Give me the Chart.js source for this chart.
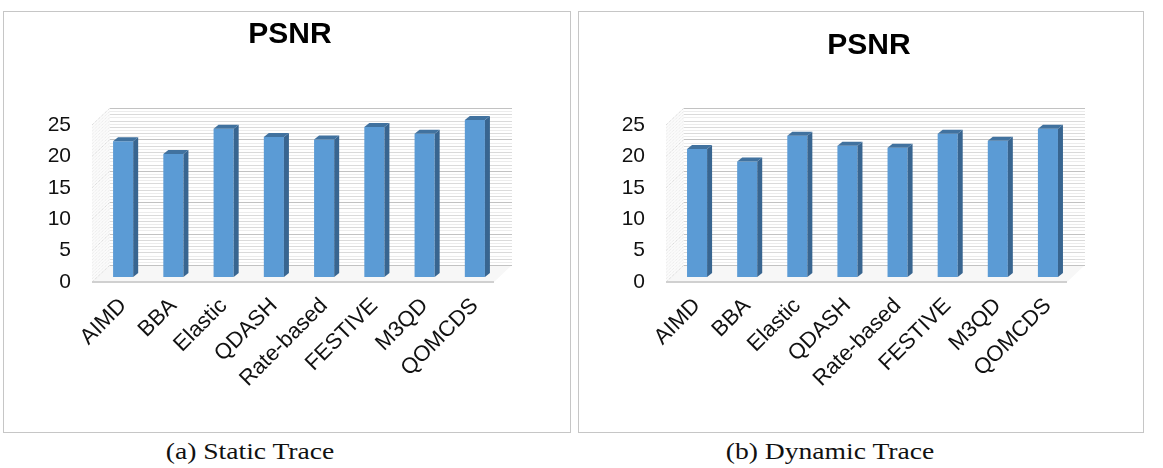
<!DOCTYPE html>
<html><head><meta charset="utf-8">
<script src="https://cdn.jsdelivr.net/npm/chart.js@4.4.1/dist/chart.umd.min.js"></script>
<style>
html,body{margin:0;padding:0;background:#fff;}
body{width:1163px;height:468px;position:relative;overflow:hidden;}
.panel{position:absolute;top:11px;height:420px;border:1px solid #c6c6c6;background:#fff;}
#pa{left:3px;width:566px;}
#pb{left:578px;width:564px;}
.panel canvas{display:block;}
.cap{position:absolute;top:438px;font-family:"Liberation Serif","Times New Roman",serif;font-size:24px;color:#111;white-space:nowrap;transform:translateX(-50%) scaleX(1.15);}
</style></head><body>
<div class="panel" id="pa"><canvas id="ca" width="566" height="420"></canvas></div>
<div class="panel" id="pb"><canvas id="cb" width="564" height="420"></canvas></div>
<div class="cap" style="left:250px">(a) Static Trace</div>
<div class="cap" style="left:830px">(b) Dynamic Trace</div>
<script>
const categories = ['AIMD','BBA','Elastic','QDASH','Rate-based','FESTIVE','M3QD','QOMCDS'];
const staticPSNR = [21.6, 19.6, 23.6, 22.3, 21.9, 23.9, 22.8, 25.0];
const dynamicPSNR = [20.4, 18.4, 22.5, 20.9, 20.6, 22.8, 21.7, 23.6];
const yMin = 0, yMax = 25, yStep = 5;
const chartTitle = 'PSNR';

Chart.defaults.font.family = "'Liberation Sans', Arial, sans-serif";
const D = {fx:-6, fy:5, bx:12, by:-12, cx:5, cy:-4};

const wall3d = {
  id:'wall3d',
  beforeDatasetsDraw(chart){
    const {ctx, chartArea:a, scales:{y}} = chart;
    const L=a.left, R=a.right;
    const base = y.getPixelForValue(yMin), top = y.getPixelForValue(yMax);
    ctx.save();
    ctx.fillStyle='#f7f7f7';
    ctx.beginPath();
    ctx.moveTo(L+D.fx, base+D.fy); ctx.lineTo(R+D.fx, base+D.fy);
    ctx.lineTo(R+D.bx, base+D.by); ctx.lineTo(L+D.bx, base+D.by); ctx.closePath(); ctx.fill();
    ctx.fillStyle='#fbfbfb';
    ctx.beginPath();
    ctx.moveTo(L+D.fx, base+D.fy); ctx.lineTo(L+D.fx, top+D.fy);
    ctx.lineTo(L+D.bx, top+D.by); ctx.lineTo(L+D.bx, base+D.by); ctx.closePath(); ctx.fill();
    ctx.lineWidth=1;
    const sub = yStep/5;
    for (let v=yMin; v<=yMax+1e-9; v+=sub/2){
      const py = y.getPixelForValue(v);
      const k = Math.round(v/sub*2);
      const major = k % 10 === 0;
      const whole = k % 2 === 0;
      ctx.strokeStyle = major ? '#c2c2c2' : (whole ? '#dadada' : '#ececec');
      ctx.beginPath();
      ctx.moveTo(L+D.bx, Math.round(py+D.by)+0.5); ctx.lineTo(R+D.bx, Math.round(py+D.by)+0.5);
      ctx.stroke();
      ctx.strokeStyle = major ? '#cfcfcf' : '#e6e6e6';
      ctx.setLineDash([1,1]);
      ctx.beginPath();
      ctx.moveTo(L+D.fx, py+D.fy); ctx.lineTo(L+D.bx, py+D.by);
      ctx.stroke();
      ctx.setLineDash([]);
    }
    ctx.strokeStyle='#d0d0d0'; ctx.lineWidth=2;
    ctx.beginPath(); ctx.moveTo(L+D.fx, base+D.fy); ctx.lineTo(R+D.fx, base+D.fy); ctx.stroke();
    ctx.restore();
  },
  afterDatasetsDraw(chart){
    const {ctx} = chart;
    ctx.save();
    chart.getDatasetMeta(0).data.forEach(bar=>{
      const {x,y,width,base} = bar.getProps(['x','y','width','base'], true);
      const xl = x-width/2, xr = x+width/2;
      ctx.fillStyle='#386590';
      ctx.beginPath();
      ctx.moveTo(xr,y); ctx.lineTo(xr+D.cx,y+D.cy); ctx.lineTo(xr+D.cx,base+D.cy); ctx.lineTo(xr,base);
      ctx.closePath(); ctx.fill();
      ctx.fillStyle='#41729f';
      ctx.beginPath();
      ctx.moveTo(xl,y); ctx.lineTo(xl+D.cx,y+D.cy); ctx.lineTo(xr+D.cx,y+D.cy); ctx.lineTo(xr,y);
      ctx.closePath(); ctx.fill();
    });
    ctx.restore();
  }
};

function makeChart(id, values, padLeft, yWidth, titleTop, titleBottom){
  return new Chart(document.getElementById(id), {
    type:'bar',
    data:{labels:categories, datasets:[{data:values, backgroundColor:'#5b9bd5', borderWidth:0,
      barPercentage:0.4, categoryPercentage:1}]},
    options:{
      responsive:false, animation:false,
      layout:{padding:{left:padLeft, right:0, top:0, bottom:0}},
      plugins:{
        legend:{display:false}, tooltip:{enabled:false},
        title:{display:true, text:chartTitle, color:'#000',
          font:{size:30, weight:'bold'}, padding:{top:titleTop, bottom:titleBottom}}
      },
      scales:{
        x:{grid:{display:false, drawTicks:false}, border:{display:false},
          ticks:{minRotation:45, maxRotation:45, autoSkip:false, color:'#111', font:{size:22}, padding:16, labelOffset:0},
          afterFit(s){ s.height = 155; }},
        y:{min:yMin, max:yMax, grid:{display:false, drawTicks:false}, border:{display:false},
          ticks:{stepSize:yStep, color:'#111', font:{size:21}, padding:27, labelOffset:5},
          afterFit(s){ s.width = yWidth; }},
        y2:{position:'right', display:true, grid:{display:false, drawTicks:false}, border:{display:false},
          ticks:{display:false}, afterFit(s){ s.width = 70; }}
      }
    },
    plugins:[wall3d]
  });
}
makeChart('ca', staticPSNR, 6, 88, 5, 67);
makeChart('cb', dynamicPSNR, 16, 77, 16, 56);
</script>
</body></html>
